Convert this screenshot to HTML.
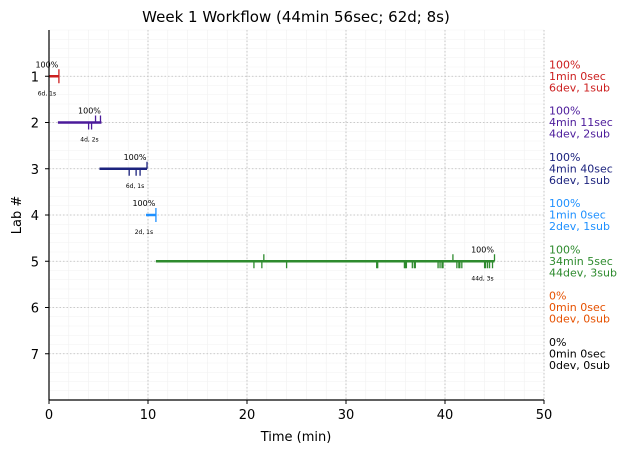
<!DOCTYPE html>
<html><head><meta charset="utf-8"><style>
body{margin:0;background:#fff;font-family:"Liberation Sans","DejaVu Sans",sans-serif;}
svg text{font-family:"DejaVu Sans","Liberation Sans",sans-serif;}
</style></head><body>
<svg id="chart" width="627" height="453" xmlns="http://www.w3.org/2000/svg">
<rect width="627" height="453" fill="#fff"/>
<text x="296" y="22" font-size="15" text-anchor="middle">Week 1 Workflow (44min 56sec; 62d; 8s)</text>
<g id="grid"></g>
<g id="series"></g>
<g id="axes"></g>
<text x="296" y="441" font-size="13" text-anchor="middle">Time (min)</text>
<text transform="translate(21,215) rotate(-90)" font-size="13" text-anchor="middle">Lab #</text>
</svg>
<script>
const labs=[1,2,3,4,5,6,7];
const colors=["#cc1f1f","#4b1a9a","#1c237e","#1e90ff","#2e8b2e","#e65100","#000000"];
const starts=[0,0.9,5.1,9.8,10.8,null,null];
const ends=[1.0,5.3,9.9,10.8,45.0,null,null];
const devTimes=[[1.0],[4.0,4.3],[8.1,8.8,9.2],[10.8],[20.7,21.5,24.0,33.1,33.2,35.9,36.0,36.1,36.7,36.9,37.0,39.3,39.5,39.7,39.8,41.2,41.4,41.5,41.7,44.0,44.1,44.3,44.5,44.8],[],[]];
const subTimes=[[1.0],[4.7,5.2],[9.9],[10.8],[21.7,40.8,45.0],[],[]];
const pctLabels=["100%","100%","100%","100%","100%","0%","0%"];
const timeLabels=["1min 0sec","4min 11sec","4min 40sec","1min 0sec","34min 5sec","0min 0sec","0min 0sec"];
const countLabels=["6dev, 1sub","4dev, 2sub","6dev, 1sub","2dev, 1sub","44dev, 3sub","0dev, 0sub","0dev, 0sub"];
const devSubLabels=["6d, 1s","4d, 2s","6d, 1s","2d, 1s","44d, 3s","",""];
const xTicks=[0,10,20,30,40,50];

const L=49,R=544,T=30,B=400;
const xs=m=>L+(R-L)*m/50;
const ys=l=>T+(B-T)*l/8;
const NS="http://www.w3.org/2000/svg";
function mk(tag,attrs,parent){const e=document.createElementNS(NS,tag);for(const k in attrs)e.setAttribute(k,attrs[k]);parent.appendChild(e);return e;}
const grid=document.getElementById('grid'),ser=document.getElementById('series'),ax=document.getElementById('axes');
for(let m=0;m<=50;m+=2){const g=mk('line',{x1:xs(m),x2:xs(m),y1:T,y2:B,stroke:'#efefef','stroke-width':0.6},grid);

}
for(let l=0;l<=8;l+=0.2){const g=mk('line',{x1:L,x2:R,y1:ys(l),y2:ys(l),stroke:'#f2f2f2','stroke-width':0.6},grid);

}
xTicks.forEach(m=>{const g=mk('line',{x1:xs(m),x2:xs(m),y1:T,y2:B,stroke:'#bbb','stroke-width':0.8,'stroke-dasharray':'1.5,2'},grid);


const t=mk('line',{x1:xs(m),x2:xs(m),y1:B,y2:B+4,stroke:'#000'},ax);


const tx=mk('text',{x:xs(m),y:B+19,'font-size':13,'text-anchor':'middle'},ax);tx.textContent=m;

});
labs.forEach((lab,i)=>{const y=ys(lab);
const g=mk('line',{x1:L,x2:R,y1:y,y2:y,stroke:'#bbb','stroke-width':0.8,'stroke-dasharray':'1.5,2'},grid);


const t=mk('line',{x1:L-4,x2:L,y1:y,y2:y,stroke:'#000'},ax);


const tx=mk('text',{x:L-10,y:y+5,'font-size':13,'text-anchor':'end'},ax);tx.textContent=lab;


const c=colors[i];
if(starts[i]!==null){
const ln=mk('line',{x1:xs(starts[i]),x2:xs(ends[i]),y1:y,y2:y,stroke:c,'stroke-width':2.5},ser);


devTimes[i].forEach(m=>{const d=mk('line',{x1:xs(m),x2:xs(m),y1:y,y2:y+7,stroke:c,'stroke-width':1.3},ser);

});
subTimes[i].forEach(m=>{const s=mk('line',{x1:xs(m),x2:xs(m),y1:y-7,y2:y,stroke:c,'stroke-width':1.3},ser);

});
const p=mk('text',{x:xs(ends[i])-12,y:y-9,'font-size':8,'text-anchor':'middle'},ser);p.textContent=pctLabels[i];


const ds=mk('text',{x:xs(ends[i])-12,y:y+19,'font-size':6,'text-anchor':'middle'},ser);ds.textContent=devSubLabels[i];

}
[pctLabels[i],timeLabels[i],countLabels[i]].forEach((s,k)=>{const r=mk('text',{x:549,y:y-8+k*11.5,'font-size':11,fill:c},ax);r.textContent=s;

});
});
const f=mk('rect',{x:L,y:T,width:R-L,height:B-T,fill:'none',stroke:'none'},ax);


const la=mk('line',{x1:L,x2:L,y1:T,y2:B,stroke:'#000','stroke-width':1.2},ax);


const ba=mk('line',{x1:L,x2:R,y1:B,y2:B,stroke:'#000','stroke-width':1.2},ax);


</script>
</body></html>
